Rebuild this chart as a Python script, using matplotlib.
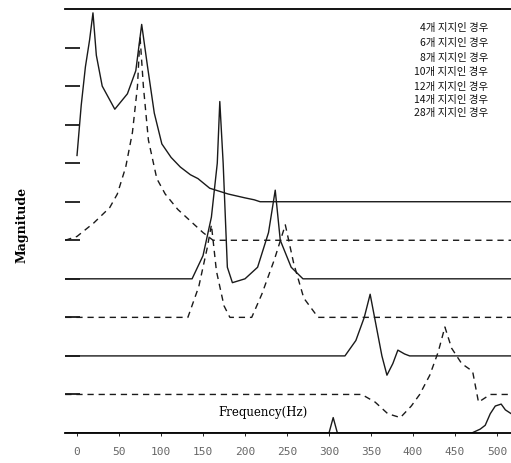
import matplotlib
matplotlib.use("Agg")
import matplotlib.pyplot as plt

# waterfall of frequency responses, one curve per support count
labels = ["4개 지지인 경우", "6개 지지인 경우", "8개 지지인 경우", "10개 지지인 경우",
          "12개 지지인 경우", "14개 지지인 경우", "28개 지지인 경우"]
offsets = [6, 5, 4, 3, 2, 1, 0]

f1 = [0, 5, 10, 15, 19, 23, 30, 45, 60, 70, 77, 84, 92, 101, 112, 123, 135, 144, 158, 180, 200, 211, 218, 517]
m1 = [1.2, 2.5, 3.5, 4.2, 4.9, 3.8, 3.0, 2.4, 2.8, 3.4, 4.6, 3.5, 2.3, 1.5, 1.15, 0.9, 0.7, 0.6, 0.35, 0.2, 0.1, 0.05, 0, 0]
f2 = [-14, 0, 20, 39, 48, 58, 66, 72, 75, 79, 85, 95, 105, 120, 135, 150, 162, 517]
m2 = [0, 0.1, 0.45, 0.85, 1.2, 1.9, 2.8, 4.0, 5.3, 4.0, 2.6, 1.6, 1.2, 0.8, 0.5, 0.2, 0, 0]
f3 = [-14, 137, 150, 160, 167, 170, 174, 179, 185, 200, 215, 228, 236, 242, 255, 269, 517]
m3 = [0, 0, 0.6, 1.6, 3.0, 4.6, 3.0, 0.3, -0.1, 0, 0.3, 1.2, 2.3, 1.0, 0.3, 0, 0]
f4 = [-14, 132, 145, 155, 160, 166, 175, 182, 208, 220, 235, 248, 258, 270, 287, 517]
m4 = [0, 0, 0.8, 1.8, 2.4, 1.2, 0.3, 0, 0, 0.6, 1.5, 2.4, 1.4, 0.5, 0, 0]
f5 = [-14, 319, 332, 342, 349, 356, 363, 369, 376, 382, 390, 396, 517]
m5 = [0, 0, 0.4, 1.0, 1.6, 0.8, 0.0, -0.5, -0.2, 0.15, 0.05, 0, 0]
f6 = [-14, 339, 355, 370, 385, 398, 408, 420, 430, 438, 446, 458, 471, 478, 485, 492, 517]
m6 = [0, 0, -0.2, -0.5, -0.6, -0.3, 0.0, 0.5, 1.1, 1.75, 1.2, 0.8, 0.6, -0.2, -0.1, 0, 0]
f7 = [-14, 300, 305, 310, 470, 480, 486, 492, 498, 505, 510, 517]
m7 = [0, 0, 0.4, 0, 0, 0.1, 0.2, 0.5, 0.7, 0.75, 0.6, 0.5]

freqs = [f1, f2, f3, f4, f5, f6, f7]
mags = [m1, m2, m3, m4, m5, m6, m7]
xticks = [0, 50, 100, 150, 200, 250, 300, 350, 400, 450, 500]

fig = plt.figure(figsize=(5.11, 4.63), dpi=100)
ax = fig.add_axes([65/511, 30/463, 446/511, 424/463])
dash = (0, (4.5, 3.5))
for i, (f, m, off) in enumerate(zip(freqs, mags, offsets)):
    ls = "-" if i % 2 == 0 else dash
    ax.plot(f, [v + off for v in m], ls=ls, color="#1a1a1a", lw=1.0)

ax.set_xlim(-14.3, 516.7)
ax.set_ylim(0, 11)
for s in ("left", "right"):
    ax.spines[s].set_visible(False)
ax.spines["top"].set_linewidth(1.3)
ax.spines["bottom"].set_linewidth(1.3)
ax.set_yticks(range(1, 11))
ax.set_yticklabels([])
ax.tick_params(axis="y", direction="in", length=11, width=1.3, color="#1a1a1a")
ax.set_xticks(xticks)
ax.set_xticklabels([str(t) for t in xticks], family="DejaVu Sans Mono", fontsize=8, color="#666666")
ax.tick_params(axis="x", direction="out", length=2, width=0.6, pad=8)

ax.text(221, 0.52, "Frequency(Hz)", family="DejaVu Serif", fontsize=8.5, ha="center", va="center")
fig.text(22/511, 1 - 225/463, "Magnitude", family="DejaVu Serif", fontweight="bold",
         fontsize=9, rotation=90, ha="center", va="center")

rows = [28, 43, 58, 72, 87, 100, 113]
for lab, y in zip(labels, rows):
    fig.text(488/511, 1 - y/463, lab, family=["Noto Sans CJK KR", "DejaVu Sans"],
             fontsize=7.5, ha="right", va="center", color="#111111")

fig.savefig("out.png", dpi=100)
